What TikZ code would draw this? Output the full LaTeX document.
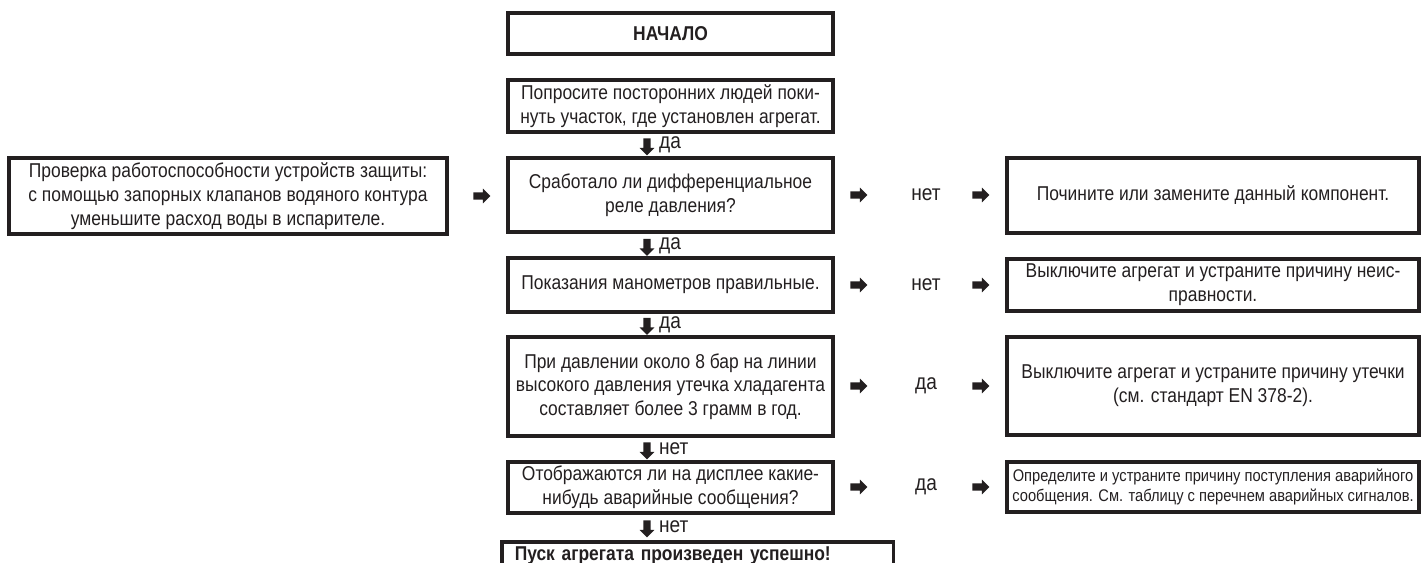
\documentclass[tikz,border=0pt]{standalone}
\usepackage{fontspec}
\setmainfont[FakeStretch=0.87]{Liberation Sans}
\usetikzlibrary{shapes.arrows}
\definecolor{Ink}{HTML}{231F20}
\tikzset{
  box/.style={draw=Ink,line width=2pt,text=Ink,align=center,inner sep=2pt,font=\fontsize{11.4}{13.5}\selectfont},
  midbox/.style={box,minimum width=6.5cm},
  sidebox/.style={box,minimum width=8.24cm},
  rarr/.style={single arrow,fill=Ink,draw=none,inner sep=0.065cm,minimum height=0.34cm,minimum width=0.28cm,single arrow head extend=0.075cm,single arrow head indent=0pt},
  darr/.style={rarr,shape border rotate=270},
  lab/.style={text=Ink,inner sep=1pt,font=\fontsize{12.5}{14}\selectfont}
}
\begin{document}
\begin{tikzpicture}[x=0.02cm,y=-0.02cm]
  \useasboundingbox (0,0) rectangle (1421,563);
  \clip (0,0) rectangle (1421,563);
  \node[midbox,minimum height=0.82cm,font=\bfseries\fontsize{11.4}{13}\selectfont] (start) at (670.5,33.5) {НАЧАЛО};
  \node[midbox,minimum height=1.04cm] (leave) at (670.5,106) {Попросите посторонних людей поки-\\нуть участок, где установлен агрегат.};
  \node[midbox,minimum height=1.48cm] (diff) at (670.5,195) {Сработало ли дифференциальное\\реле давления?};
  \node[midbox,minimum height=1.08cm] (gauge) at (670.5,285) {Показания манометров правильные.};
  \node[midbox,minimum height=1.98cm] (leak) at (670.5,386.5) {При давлении около 8 бар на линии\\высокого давления утечка хладагента\\составляет более 3 грамм в год.};
  \node[midbox,minimum height=1.02cm] (alarm) at (670.5,487.5) {Отображаются ли на дисплее какие-\\нибудь аварийные сообщения?};
  \node[box,anchor=north west,align=left,text width=7.32cm,inner xsep=0.26cm,inner ysep=3pt,text depth=1cm,font=\bfseries\fontsize{11.4}{13}\selectfont] (done) at (500,540) {Пуск агрегата произведен успешно!};
  \node[box,minimum width=8.76cm,minimum height=1.52cm] (check) at (228,196) {Проверка работоспособности устройств защиты:\\с помощью запорных клапанов водяного контура\\уменьшите расход воды в испарителе.};
  \node[sidebox,minimum height=1.5cm] (fix) at (1213,195.5) {Почините или замените данный компонент.};
  \node[sidebox,minimum height=1.04cm] (stopa) at (1213,285) {Выключите агрегат и устраните причину неис-\\правности.};
  \node[sidebox,minimum height=1.96cm] (stopb) at (1213,386) {Выключите агрегат и устраните причину утечки\\(см. стандарт EN 378-2).};
  \node[sidebox,minimum height=1cm,font=\fontsize{9.6}{11.5}\selectfont] (fixalarm) at (1213,487) {Определите и устраните причину поступления аварийного\\сообщения. См. таблицу с перечнем аварийных сигналов.};
  \node[rarr] (go) at (480,196) {};
  \foreach \y/\t [count=\i] in {195/нет,285/нет,386/да,487/да} {
    \node[rarr] (ra\i) at (857,\y) {};
    \node[lab] (rl\i) at (926,\y) {\t};
    \node[rarr] (rb\i) at (979,\y) {};
  }
  \foreach \y/\t [count=\i] in {145/да,245.5/да,324.5/да,449/нет,527/нет} {
    \node[darr] (da\i) at (647,\y) {};
    \node[lab,anchor=west] (dl\i) at (657,\y) {\t};
  }
\end{tikzpicture}
\end{document}
